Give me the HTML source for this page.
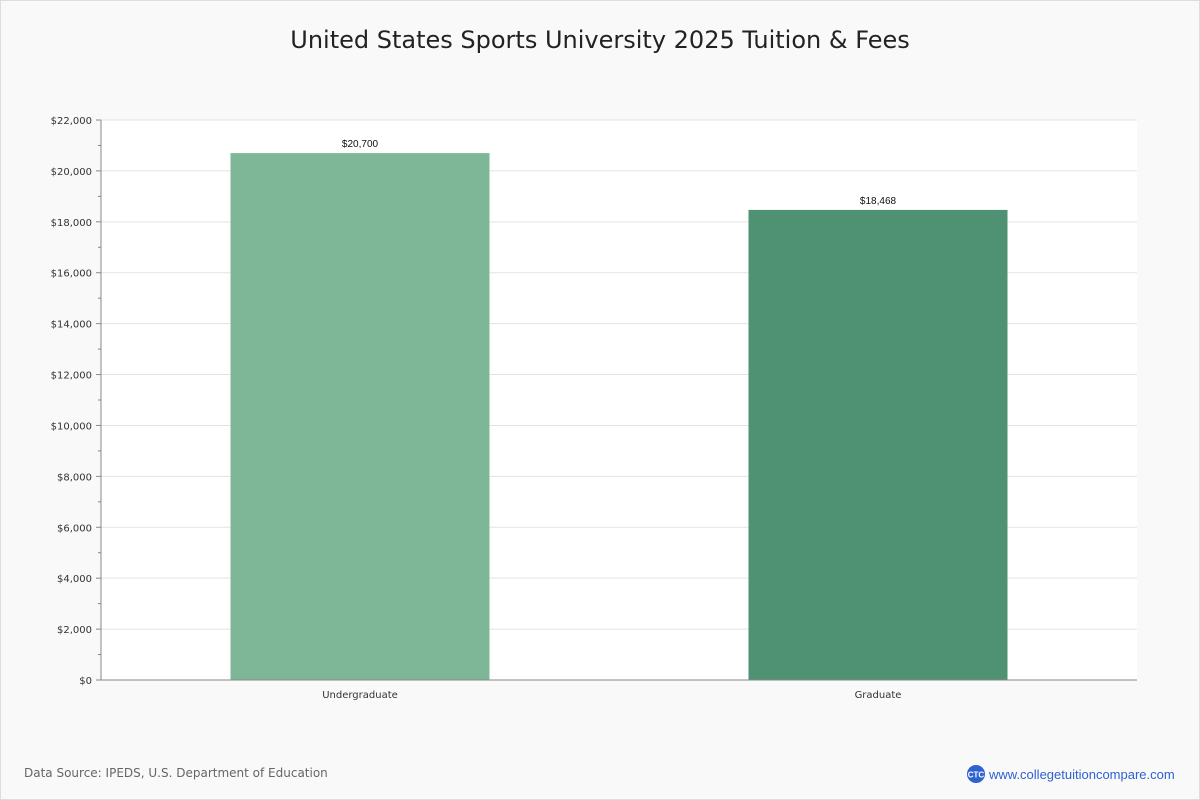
<!DOCTYPE html>
<html><head><meta charset="utf-8"><style>
body{margin:0;background:#fff;}
#wrap{position:relative;width:1198px;height:798px;border:1px solid #ddd;background:#f9f9f9;font-family:"DejaVu Sans","Liberation Sans",sans-serif;}
</style></head><body>
<div id="wrap">
<svg id="chart" width="1198" height="798" style="position:absolute;left:0;top:0">
<text x="599" y="47" text-anchor="middle" font-size="24" fill="#222">United States Sports University 2025 Tuition &amp; Fees</text>
<text x="23" y="776" font-size="12" fill="#666">Data Source: IPEDS, U.S. Department of Education</text>
<g>
<circle cx="975" cy="773" r="9" fill="#2d62d0"/>
<text x="975" y="776.5" text-anchor="middle" font-size="8" fill="#fff" font-weight="bold" font-family="Liberation Sans Narrow, Liberation Sans, sans-serif">CTC</text>
<text x="988" y="778" font-size="13" fill="#2d62d0" font-family="Liberation Sans, sans-serif">www.collegetuitioncompare.com</text>
</g>
</svg>
</div>
<script>
const categories=["Undergraduate","Graduate"];
const values=[20700,18468];
const valueLabels=["$20,700","$18,468"];
const tickValues=[0,2000,4000,6000,8000,10000,12000,14000,16000,18000,20000,22000];
const colors=["#7db798","#4f9173"];
const svg=document.getElementById('chart');
const NS='http://www.w3.org/2000/svg';
const L=100,R=1136,T=119,B=679,yMax=22000;
const y=v=>B-(v/yMax)*(B-T);
const band=(R-L)/categories.length;
const x=i=>L+band*i+band/2;
function mk(t,a,p){const e=document.createElementNS(NS,t);for(const k in a)e.setAttribute(k,a[k]);(p||svg).appendChild(e);return e;}
const plot=mk('rect',{x:L,y:T,width:R-L,height:B-T,fill:'#fff'});


tickValues.forEach(v=>{
  const g=mk('line',{x1:L,x2:R,y1:y(v),y2:y(v),stroke:'#e3e3e3'});
  
  
  mk('line',{x1:L-5,x2:L,y1:y(v),y2:y(v),stroke:'#888'});
  if(v<yMax){mk('line',{x1:L-3,x2:L,y1:y(v+1000),y2:y(v+1000),stroke:'#888'});}
  const t=mk('text',{x:L-9,y:y(v)+4,'text-anchor':'end','font-size':10,fill:'#333'});
  t.textContent='$'+v.toLocaleString('en-US');
  
  
});
categories.forEach((c,i)=>{
  const w=band*0.5;
  const b=mk('rect',{x:x(i)-w/2,y:y(values[i]),width:w,height:B-y(values[i]),fill:colors[i]});
  
  
  const l=mk('text',{x:x(i),y:y(values[i])-6,'text-anchor':'middle','font-size':10,fill:'#111','font-family':'Liberation Sans, sans-serif'});
  l.textContent=valueLabels[i];
  
  
  const cl=mk('text',{x:x(i),y:B+18,'text-anchor':'middle','font-size':10,fill:'#333'});
  cl.textContent=c;
  
  
});
const ya=mk('line',{x1:L,x2:L,y1:T,y2:B,stroke:'#888'});


const xa=mk('line',{x1:L,x2:R,y1:B,y2:B,stroke:'#888'});


</script>
</body></html>
